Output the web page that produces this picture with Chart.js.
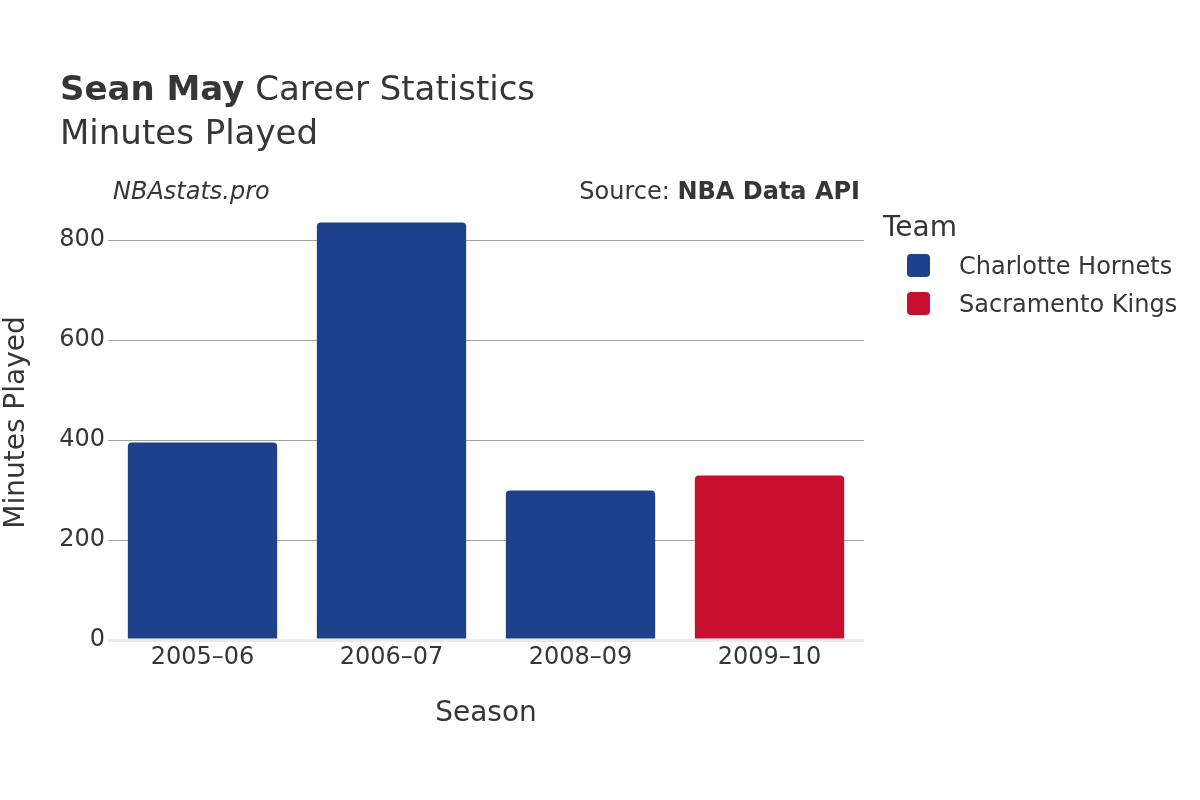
<!DOCTYPE html>
<html>
<head>
<meta charset="utf-8">
<title>Sean May Career Statistics - Minutes Played</title>
<script src="https://cdn.jsdelivr.net/npm/chart.js@4.4.1/dist/chart.umd.min.js"></script>
<style>
  html, body { margin: 0; padding: 0; background: #ffffff; }
  #wrap { width: 1200px; height: 800px; }
</style>
</head>
<body>
<div id="wrap"><canvas id="minutesChart" width="1200" height="800"></canvas></div>
<script>
// Dados do gráfico
const seasons = ['2005–06', '2006–07', '2008–09', '2009–10'];
const teams = ['Charlotte Hornets', 'Sacramento Kings'];
const teamColors = ['#1d428a', '#c8102e'];
const hornetsMinutes = [395, 835, 299, null];
const kingsMinutes = [null, null, null, 329];
const yTickValues = [0, 200, 400, 600, 800];

const FONT = '"DejaVu Sans", sans-serif';
const TEXT_COLOR = '#363636';

Chart.defaults.font.family = FONT;
Chart.defaults.color = TEXT_COLOR;

// Título, subtítulo, fonte e legenda desenhados à mão
const headerPlugin = {
    id: 'header',
    afterDraw(chart) {
        const ctx = chart.ctx;
        ctx.save();
        ctx.fillStyle = TEXT_COLOR;
        ctx.textBaseline = 'alphabetic';
        ctx.textAlign = 'left';

        ctx.font = 'bold 34px ' + FONT;
        ctx.fillText('Sean May', 60, 100);
        const nameW = ctx.measureText('Sean May').width;
        ctx.font = '34px ' + FONT;
        ctx.fillText(' Career Statistics', 60 + nameW, 100);
        ctx.fillText('Minutes Played', 60, 144);

        ctx.font = 'italic 24px ' + FONT;
        ctx.fillText('NBAstats.pro', 113, 199);

        ctx.textAlign = 'right';
        ctx.font = 'bold 24px ' + FONT;
        ctx.fillText('NBA Data API', 860, 199);
        const apiW = ctx.measureText('NBA Data API').width;
        ctx.font = '24px ' + FONT;
        ctx.fillText('Source: ', 860 - apiW, 199);

        // legenda
        ctx.textAlign = 'left';
        ctx.font = '28px ' + FONT;
        ctx.fillText('Team', 883, 236);
        ctx.font = '24px ' + FONT;
        ctx.textBaseline = 'middle';
        chart.data.datasets.forEach((ds, i) => {
            const y = 254 + i * 38;
            ctx.fillStyle = ds.backgroundColor;
            ctx.beginPath();
            ctx.roundRect(907, y, 23, 23, 4);
            ctx.fill();
            ctx.fillStyle = TEXT_COLOR;
            ctx.fillText(ds.label, 959, y + 14);
        });
        ctx.restore();
    }
};

const chartEl = document.getElementById('minutesChart');
new Chart(chartEl, {
    type: 'bar',
    data: {
        labels: seasons,
        datasets: [{
            label: teams[0],
            data: hornetsMinutes,
            backgroundColor: teamColors[0],
            borderRadius: 4,
            barPercentage: 0.79,
            categoryPercentage: 1
        }, {
            label: teams[1],
            data: kingsMinutes,
            backgroundColor: teamColors[1],
            borderRadius: 4,
            barPercentage: 0.79,
            categoryPercentage: 1
        }]
    },
    options: {
        responsive: false,
        animation: false,
        layout: {
            padding: { left: 0, top: 205, right: 336, bottom: 0 }
        },
        scales: {
            x: {
                stacked: true,
                grid: { display: false, drawTicks: false },
                border: { display: false },
                ticks: { font: { size: 24 }, padding: 3, color: TEXT_COLOR },
                title: {
                    display: true,
                    text: 'Season',
                    font: { size: 28 },
                    color: TEXT_COLOR,
                    padding: { top: 0, bottom: 69 }
                },
                afterFit(scale) { scale.height = 160; }
            },
            y: {
                stacked: true,
                min: 0,
                max: 870,
                afterBuildTicks(scale) {
                    scale.ticks = yTickValues.map(v => ({ value: v }));
                },
                grid: {
                    drawTicks: false,
                    color: c => c.tick && c.tick.value === 0 ? '#ebebeb' : '#a3a3a3',
                    lineWidth: c => c.tick && c.tick.value === 0 ? 3 : 1
                },
                border: { display: false },
                ticks: { font: { size: 24 }, padding: 3, color: TEXT_COLOR },
                title: {
                    display: true,
                    text: 'Minutes Played',
                    font: { size: 28 },
                    color: TEXT_COLOR,
                    padding: 0
                },
                afterFit(scale) { scale.width = 108; }
            }
        },
        plugins: {
            legend: { display: false },
            title: { display: false },
            tooltip: { enabled: false }
        }
    },
    plugins: [headerPlugin]
});
</script>
</body>
</html>
